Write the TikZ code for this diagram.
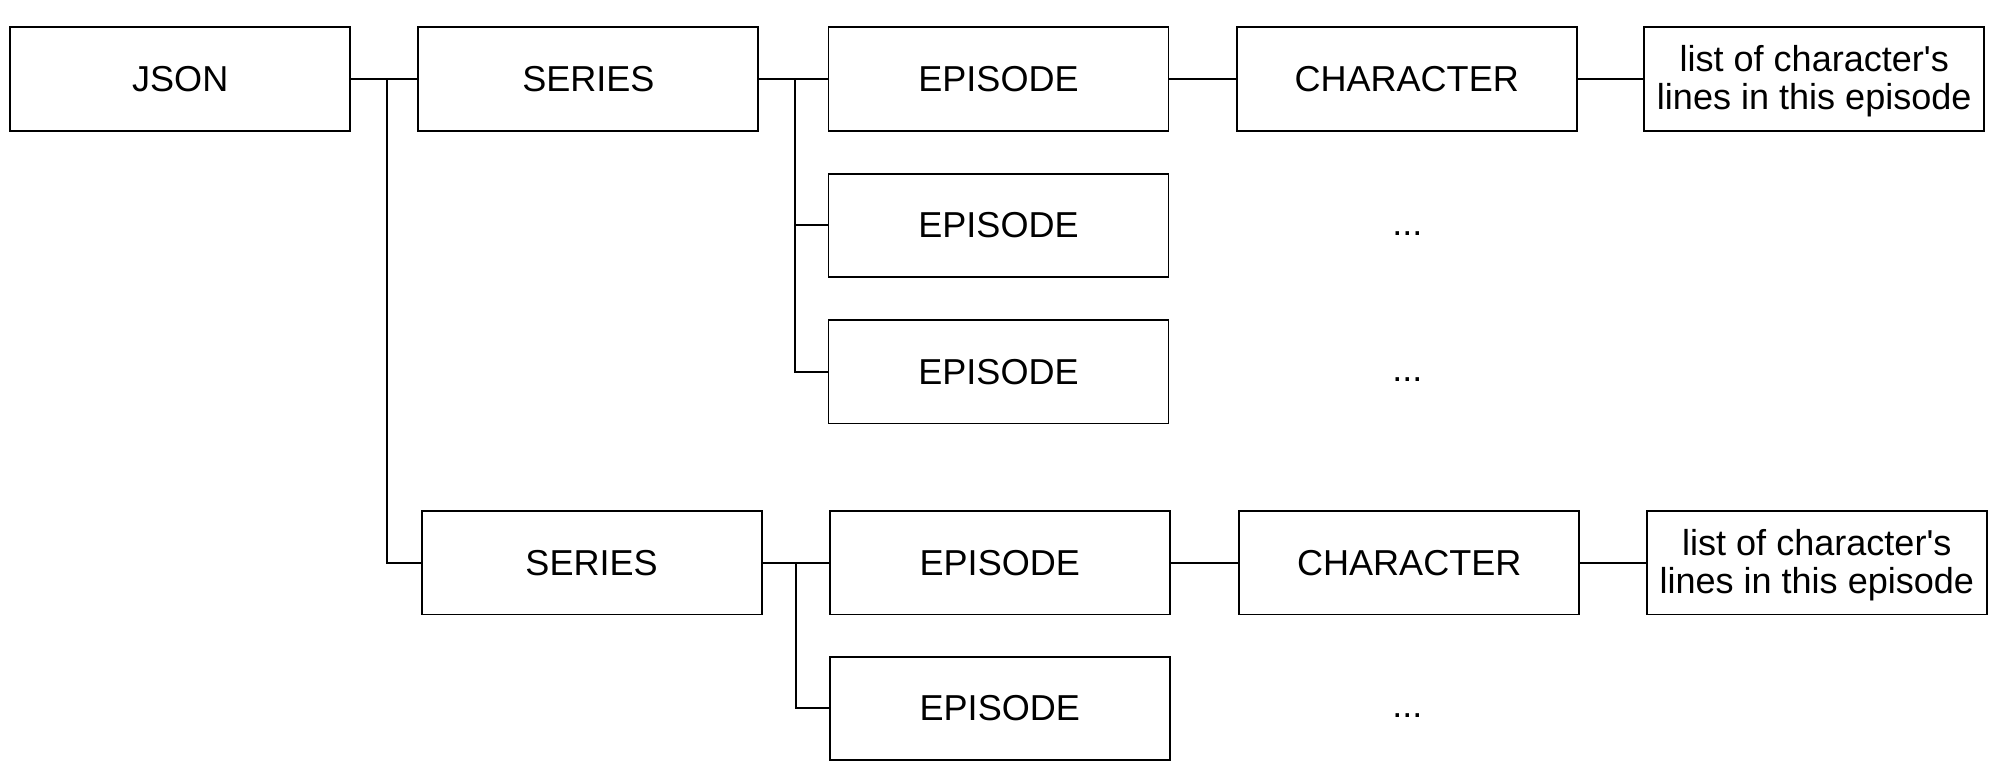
\documentclass[tikz,border=0pt]{standalone}
\usepackage{fontspec}
\setmainfont{Liberation Sans}
\begin{document}
\begin{tikzpicture}[x=1pt,y=-1pt,
  box/.style={draw=black,line width=1.5pt,minimum width=267pt,minimum height=81pt,inner sep=0pt,
    font=\fontsize{28.3}{30}\selectfont,align=center},
  txt/.style={inner sep=0pt,font=\fontsize{28.3}{30}\selectfont},
  conn/.style={line width=1.5pt,draw=black}]
\useasboundingbox (0,0) rectangle (1568,614);
\node[box] (json) at (141.5,62) {JSON};
\node[box] (s1) at (462,62) {SERIES};
\node[box] (e1) at (784,62) {EPISODE};
\node[box] (c1) at (1104.5,62) {CHARACTER};
\node[box] (l1) at (1424.5,62) {};
\node[txt,align=center] (l1t) at (1424.5,63.5) {list of character\textquotesingle s\\lines in this episode};
\node[box] (e2) at (784,177) {EPISODE};
\node[txt] (d2) at (1105,183) {...};
\node[box] (e3) at (784,292) {EPISODE};
\node[txt] (d3) at (1105,298) {...};
\node[box] (s2) at (464.5,442) {SERIES};
\node[box] (e4) at (785,442) {EPISODE};
\node[box] (c2) at (1106.5,442) {CHARACTER};
\node[box] (l2) at (1426.5,442) {};
\node[txt,align=center] (l2t) at (1426.5,443.5) {list of character\textquotesingle s\\lines in this episode};
\node[box] (e5) at (785,556) {EPISODE};
\node[txt] (d5) at (1105,562) {...};
\coordinate (j1) at (304,62);
\coordinate (k1) at (624,62);
\coordinate (k2) at (625,442);
\draw[conn] (json.east) -- (s1.west);
\draw[conn] (j1) |- (s2.west);
\draw[conn] (s1.east) -- (e1.west);
\draw[conn] (k1) |- (e2.west);
\draw[conn] (k1) |- (e3.west);
\draw[conn] (e1.east) -- (c1.west);
\draw[conn] (c1.east) -- (l1.west);
\draw[conn] (s2.east) -- (e4.west);
\draw[conn] (k2) |- (e5.west);
\draw[conn] (e4.east) -- (c2.west);
\draw[conn] (c2.east) -- (l2.west);
\end{tikzpicture}
\end{document}
